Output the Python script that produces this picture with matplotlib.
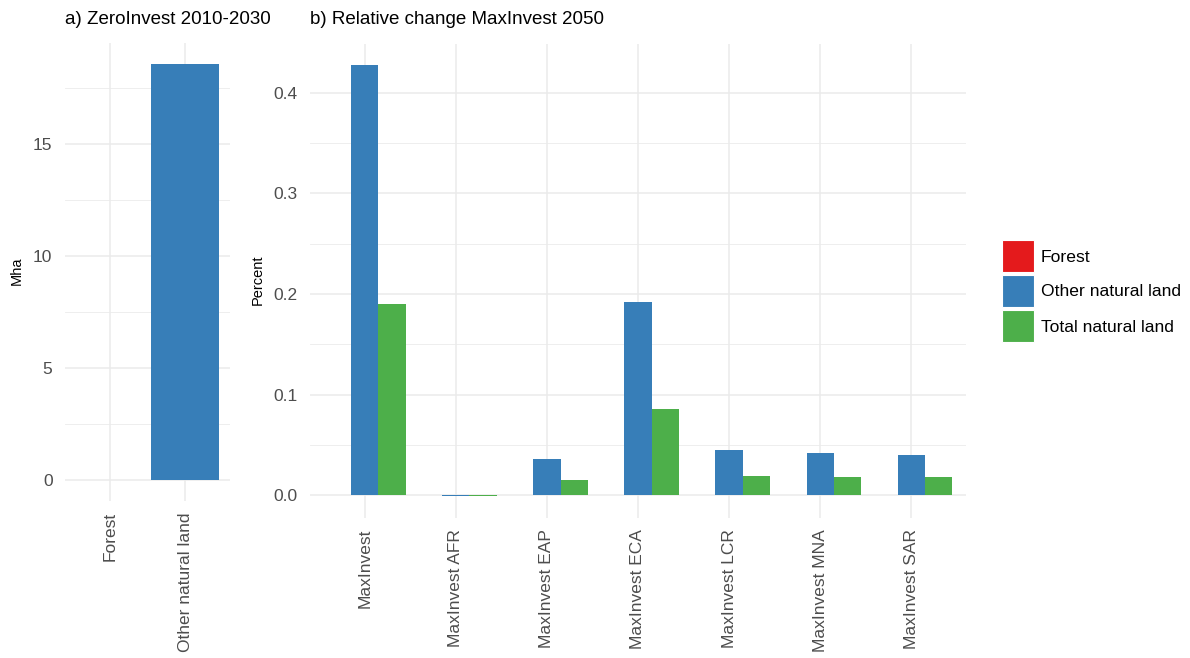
import numpy as np
import matplotlib.pyplot as plt
from matplotlib.patches import Rectangle

plt.rcParams['font.family'] = ['Liberation Sans', 'DejaVu Sans']

# panel a
zero_cats = ["Forest", "Other natural land"]
zero_vals = [0.0, 18.6]

# panel b
regions = ["MaxInvest", "MaxInvest AFR", "MaxInvest EAP", "MaxInvest ECA",
           "MaxInvest LCR", "MaxInvest MNA", "MaxInvest SAR"]
forest = [0.0, 0.0, 0.0, 0.0, 0.0, 0.0, 0.0]
other = [0.427, -0.0012, 0.036, 0.192, 0.045, 0.042, 0.040]
total = [0.190, -0.0012, 0.015, 0.086, 0.019, 0.018, 0.018]

series = ["Forest", "Other natural land", "Total natural land"]
colors = ["#E41A1C", "#377EB8", "#4DAF4A"]

grid_c = "#EBEBEB"
tick_c = "#4D4D4D"

W, H = 1190, 658
fig = plt.figure(figsize=(W/100, H/100), dpi=100)

def px_axes(x0, y0, x1, y1):
    return fig.add_axes([x0/W, 1 - y1/H, (x1-x0)/W, (y1-y0)/H])

def style(ax):
    for s in ax.spines.values():
        s.set_visible(False)
    ax.set_axisbelow(True)
    ax.grid(True, which='major', color=grid_c, lw=1.1)
    ax.grid(True, which='minor', axis='y', color=grid_c, lw=0.6)
    ax.tick_params(which='both', length=0, colors=tick_c, labelsize=12.5)
    ax.tick_params(axis='y', pad=9)
    ax.tick_params(axis='x', pad=8)

# ---- panel a
ax1 = px_axes(65, 43, 230, 501)
x1 = np.arange(len(zero_cats))
ax1.bar(x1, zero_vals, width=0.9, color=colors[:2])
ax1.set_xticks(x1)
ax1.set_xticklabels(zero_cats, rotation=90, va='top', ha='center')
ax1.set_xlim(-0.6, 1.6)
ax1.set_ylim(-0.93, 19.53)
ax1.set_yticks([0, 5, 10, 15])
ax1.set_yticks([2.5, 7.5, 12.5, 17.5], minor=True)
style(ax1)
fig.text(17/W, 1 - 271/H, "Mha", fontsize=10.5, rotation=90,
         va='center', ha='center', color='black')
fig.text(65/W, 1 - 20/H, "a) ZeroInvest 2010-2030", fontsize=13.5,
         va='center', ha='left', color='black')

# ---- panel b
ax2 = px_axes(310, 44, 966, 518)
x2 = np.arange(len(regions))
w = 0.3
for i, (vals, c) in enumerate(zip([forest, other, total], colors)):
    ax2.bar(x2 + (i - 1) * w, vals, width=w, color=c, label=series[i])
ax2.set_xticks(x2)
ax2.set_xticklabels(regions, rotation=90, va='top', ha='center')
ax2.set_xlim(-0.6, len(regions) - 0.4)
ax2.set_ylim(-0.0226, 0.4483)
ax2.set_yticks([0.0, 0.1, 0.2, 0.3, 0.4])
ax2.set_yticklabels(["0.0", "0.1", "0.2", "0.3", "0.4"])
ax2.set_yticks([0.05, 0.15, 0.25, 0.35], minor=True)
style(ax2)
fig.text(258/W, 1 - 280/H, "Percent", fontsize=10.5, rotation=90,
         va='center', ha='center', color='black')
fig.text(310/W, 1 - 20/H, "b) Relative change MaxInvest 2050", fontsize=13.5,
         va='center', ha='left', color='black')

# legend (drawn by hand so keys are square like ggplot)
key_top = 240
for i, (lab, c) in enumerate(zip(series, colors)):
    y0 = key_top + i * 35
    fig.add_artist(Rectangle((1002/W, 1 - (y0 + 32)/H), 32/W, 32/H,
                             facecolor=c, edgecolor='white', lw=0.8,
                             transform=fig.transFigure))
    fig.text(1041/W, 1 - (y0 + 17)/H, lab, fontsize=12.6, va='center',
             ha='left', color='black')

fig.savefig("out.png", dpi=100, facecolor='white')
